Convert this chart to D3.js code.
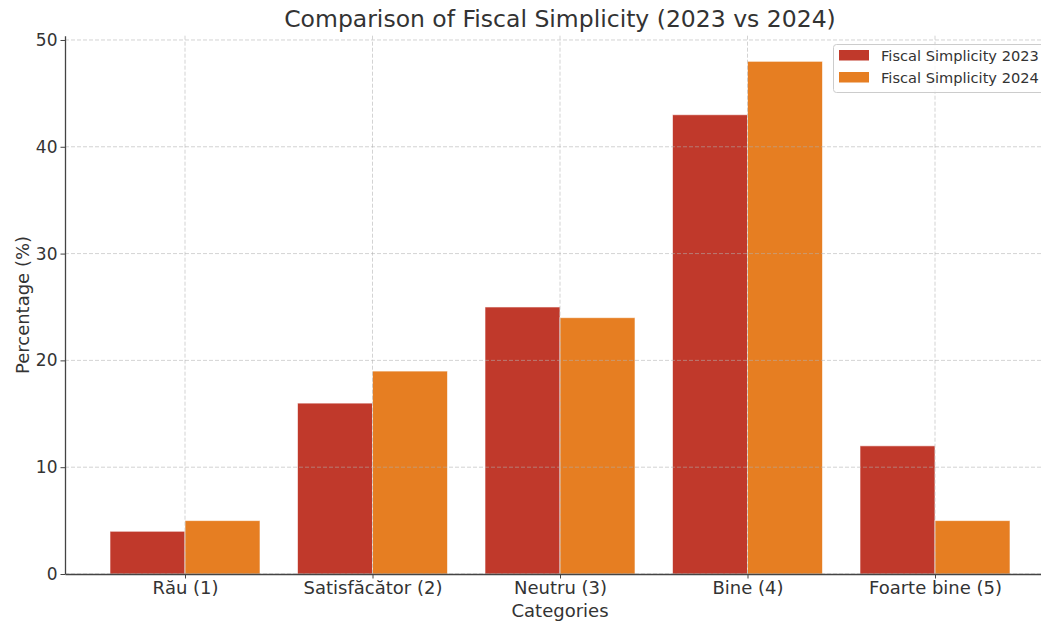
<!DOCTYPE html>
<html>
<head>
<meta charset="utf-8">
<script src="https://cdn.jsdelivr.net/npm/d3@7"></script>
<style>
  html, body { margin: 0; padding: 0; background: #fff; }
  svg { display: block; font-family: "DejaVu Sans", sans-serif; }
</style>
</head>
<body>
<svg id="chart" width="1041" height="621"></svg>
<script>
// Survey categories and percentages for each year
const categories = ["Rău (1)", "Satisfăcător (2)", "Neutru (3)", "Bine (4)", "Foarte bine (5)"];
const values2023 = [4, 16, 25, 43, 12];
const values2024 = [5, 19, 24, 48, 5];
const seriesNames = ["Fiscal Simplicity 2023", "Fiscal Simplicity 2024"];
const seriesColors = ["#c0392b", "#e67e22"];
const yTicks = [0, 10, 20, 30, 40, 50];

const svg = d3.select("#chart");
const textColor = "#333333";

// Plot frame (the right part extends past the visible canvas)
const plotLeft = 65, plotRight = 1055, plotTop = 35.7, plotBottom = 574;

// Continuous x scale in category-index units, with bar width 0.4
const x = d3.scaleLinear().domain([-0.64, categories.length - 1 + 0.64]).range([plotLeft, plotRight]);
const y = d3.scaleLinear().domain([0, 50.4]).range([plotBottom, plotTop]);
const barW = 0.4;

const series = [values2023, values2024];

// Bars
series.forEach((vals, si) => {
  svg.append("g")
    .selectAll("rect")
    .data(vals)
    .join("rect")
    .attr("x", (d, i) => x(si === 0 ? i - barW : i))
    .attr("width", x(barW) - x(0))
    .attr("y", d => y(d))
    .attr("height", d => y(0) - y(d))
    .attr("fill", seriesColors[si])
    .attr("stroke", "rgba(255,255,255,0.6)")
    .attr("stroke-width", 1);
});

// Dashed grid drawn above the bars
const grid = svg.append("g").attr("stroke", "#b0b0b0").attr("stroke-opacity", 0.7)
  .attr("stroke-dasharray", "4,2").attr("stroke-width", 0.8);
grid.selectAll("line.h").data(yTicks).join("line")
  .attr("x1", plotLeft).attr("x2", plotRight)
  .attr("y1", d => y(d)).attr("y2", d => y(d));
grid.selectAll("line.v").data(categories).join("line")
  .attr("x1", (d, i) => x(i)).attr("x2", (d, i) => x(i))
  .attr("y1", plotTop).attr("y2", plotBottom);

// Axes
const xAxis = d3.axisBottom(x).tickValues(d3.range(categories.length))
  .tickFormat(i => categories[i]).tickSize(4.5).tickPadding(3).tickSizeOuter(0);
const gx = svg.append("g").attr("transform", `translate(0,${plotBottom})`).call(xAxis);
gx.select(".domain").attr("stroke", "#444").attr("stroke-width", 1.3);
gx.selectAll(".tick line").attr("stroke", "#444");
gx.selectAll("text").attr("fill", textColor).style("font-size", "18px")
  .style("font-family", "DejaVu Sans, sans-serif");

const yAxis = d3.axisLeft(y).tickValues(yTicks).tickSize(4.5).tickPadding(3).tickSizeOuter(0);
const gy = svg.append("g").attr("transform", `translate(${plotLeft},0)`).call(yAxis);
gy.select(".domain").attr("stroke", "#444").attr("stroke-width", 1.3);
gy.selectAll(".tick line").attr("stroke", "#444");
gy.selectAll("text").attr("fill", textColor).style("font-size", "17px")
  .style("font-family", "DejaVu Sans, sans-serif");

// Title and axis labels
svg.append("text").attr("x", 560).attr("y", 27).attr("text-anchor", "middle")
  .attr("fill", textColor).style("font-size", "23.5px")
  .text("Comparison of Fiscal Simplicity (2023 vs 2024)");
svg.append("text").attr("x", 560).attr("y", 617).attr("text-anchor", "middle")
  .attr("fill", textColor).style("font-size", "18px").text("Categories");
svg.append("text").attr("transform", "translate(28.5,305) rotate(-90)")
  .attr("text-anchor", "middle").attr("fill", textColor).style("font-size", "18px")
  .text("Percentage (%)");

// Legend
const lg = svg.append("g").attr("transform", "translate(833,44)");
lg.append("rect").attr("x", 0.5).attr("y", 0.5).attr("width", 240).attr("height", 48)
  .attr("rx", 3).attr("fill", "#fff").attr("fill-opacity", 0.8)
  .attr("stroke", "#cccccc");
seriesNames.forEach((name, i) => {
  const row = lg.append("g").attr("transform", `translate(0,${6 + i * 22})`);
  row.append("rect").attr("x", 6).attr("y", 0).attr("width", 30).attr("height", 10.5)
    .attr("fill", seriesColors[i]);
  row.append("text").attr("x", 48).attr("y", 10.5).attr("fill", textColor)
    .style("font-size", "14.6px").text(name);
});
</script>
</body>
</html>
